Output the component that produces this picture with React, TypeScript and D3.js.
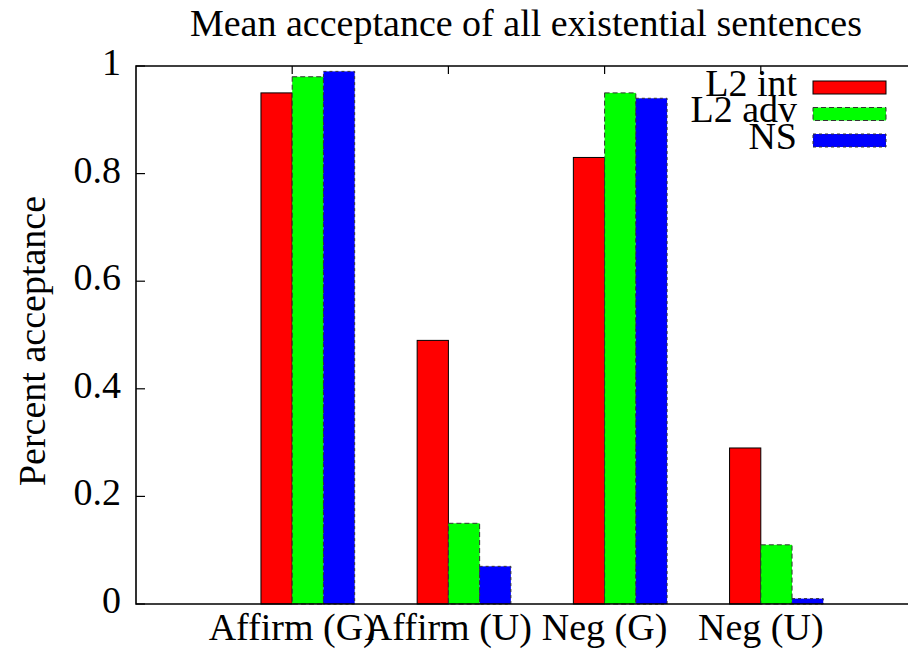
import React from 'react';
import * as d3 from 'd3';

const categories = ['Affirm (G)', 'Affirm (U)', 'Neg (G)', 'Neg (U)'];
const seriesNames = ['L2 int', 'L2 adv', 'NS'];
const l2Int = [0.95, 0.49, 0.83, 0.29];
const l2Adv = [0.98, 0.15, 0.95, 0.11];
const ns = [0.99, 0.07, 0.94, 0.01];
const yTicks = [0, 0.2, 0.4, 0.6, 0.8, 1];
const yTickLabels = ['0', '0.2', '0.4', '0.6', '0.8', '1'];

const W = 908;
const H = 654;
const FONT = "'Liberation Serif', 'Times New Roman', Times, 'DejaVu Serif', serif";
const FS = 38;

const colors = ['#ff0000', '#00ff00', '#0000ff'];
const dashes = ['none', '5,3', '3,3'];
const edge = ['#000000', '#333333', '#333333'];

const txt: React.CSSProperties = { fontFamily: FONT, fontSize: FS };

export default function App() {
  const values = [l2Int, l2Adv, ns];
  const x = d3.scaleLinear().domain([-1, 4]).range([136, 917]);
  const y = d3.scaleLinear().domain([0, 1]).range([604, 66]);
  const bw = x(0.2) - x(0);

  return (
    <svg width={W} height={H} style={{ position: 'absolute', left: 0, top: 0, background: '#fff' }}>
      <rect x={0} y={0} width={W} height={H} fill="#fff" />
      <text x={526} y={36} textAnchor="middle" style={txt}>Mean acceptance of all existential sentences</text>

      {/* bars */}
      {values.map((vals, s) =>
        vals.map((v, i) => (
          <rect key={`${s}-${i}`}
            x={x(i - 0.2 + s * 0.2)} y={y(v)} width={bw} height={y(0) - y(v)}
            fill={colors[s]} stroke={edge[s]} strokeWidth={1}
            strokeDasharray={dashes[s]} />
        ))
      )}

      {/* frame */}
      <path d={`M${x(4)},${y(1)} H${x(-1)} V${y(0)} H${x(4)}`} fill="none" stroke="#000" strokeWidth={1.6} />

      {/* y ticks */}
      {yTicks.map((t, i) => (
        <g key={t}>
          <line x1={x(-1)} x2={x(-1) + 9} y1={y(t)} y2={y(t)} stroke="#000" strokeWidth={1.2} />
          <text x={121} y={y(t) + 9} textAnchor="end" style={txt}>{yTickLabels[i]}</text>
        </g>
      ))}

      {/* x ticks and labels */}
      {categories.map((c, i) => (
        <g key={c}>
          <line x1={x(i)} x2={x(i)} y1={y(1)} y2={y(1) + 8} stroke="#000" strokeWidth={1.2} />
          <text x={x(i)} y={640} textAnchor="middle" style={txt}>{c}</text>
        </g>
      ))}

      <text transform={`translate(45,341) rotate(-90)`} textAnchor="middle" style={txt}>Percent acceptance</text>

      {/* legend */}
      {seriesNames.map((n, s) => {
        const cy = 87.5 + s * 26.5;
        return (
          <g key={n}>
            <text x={797} y={cy + 8} textAnchor="end" style={txt}>{n}</text>
            <rect x={813} y={cy - 6.5} width={73} height={13} fill={colors[s]}
              stroke={edge[s]} strokeWidth={1} strokeDasharray={dashes[s]} />
          </g>
        );
      })}
    </svg>
  );
}
